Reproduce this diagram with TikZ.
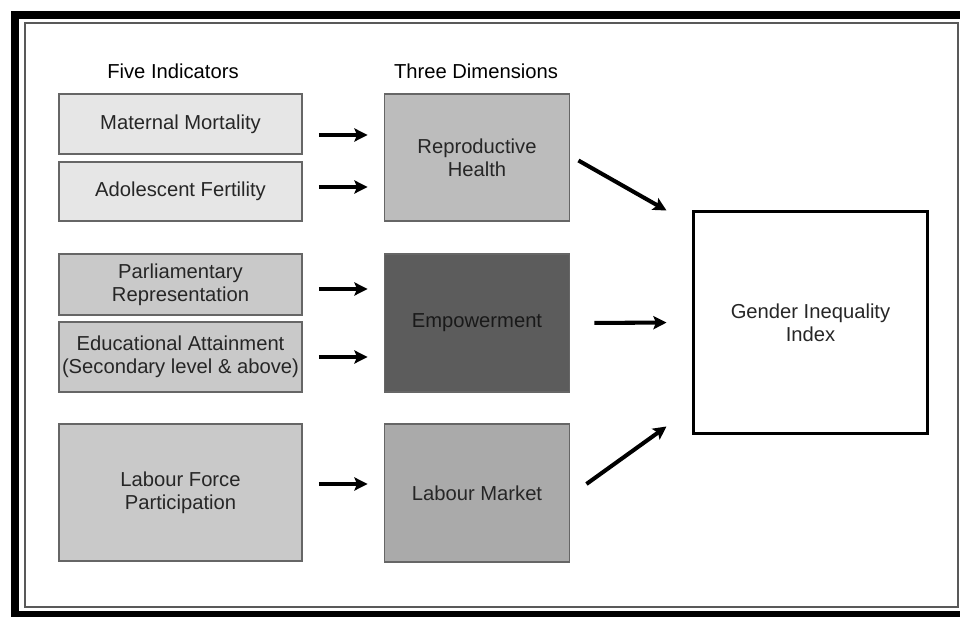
\documentclass[tikz,border=0pt]{standalone}
\usepackage{fontspec}
\setmainfont{Liberation Sans}
\usepackage{tikz}
\usetikzlibrary{arrows.meta,positioning}
\definecolor{lightbox}{HTML}{E6E6E6}
\definecolor{midbox}{HTML}{C9C9C9}
\definecolor{repbox}{HTML}{BCBCBC}
\definecolor{empbox}{HTML}{5C5C5C}
\definecolor{labbox}{HTML}{AAAAAA}
\tikzset{font=\fontsize{11.5}{13}\selectfont}
\tikzstyle{ind}=[draw=black!60,line width=1.1pt,minimum width=4.86cm,align=center,text=black!85,inner sep=1pt]
\tikzstyle{dim}=[draw=black!60,line width=1.1pt,minimum width=3.7cm,align=center,text=black!85]
\tikzstyle{gii}=[draw=black,line width=1.7pt,minimum width=4.7cm,minimum height=4.46cm,align=center,text=black!85]

\begin{document}
\begin{tikzpicture}[x=0.02cm,y=-0.02cm]
\useasboundingbox (0,0) rectangle (960,617);
% frame
\draw[line width=4.5pt] (15,15) rectangle (975,615);
\draw[black!65,line width=1.5pt] (25,23) rectangle (958,607);
% titles
\node (T) at (173,71) {Five Indicators};
\node (D) at (476,71) {Three Dimensions};
% indicators
\node[ind,fill=lightbox,minimum height=1.2cm] (M) at (180.5,124) {Maternal Mortality};
\node[ind,fill=lightbox,minimum height=1.18cm] (F) at (180.5,191.5) {Adolescent Fertility};
\node[ind,fill=midbox,minimum height=1.22cm] (P) at (180.5,284.5) {Parliamentary\\Representation};
\node[ind,fill=midbox,minimum height=1.4cm] (E) at (180.5,357) {Educational Attainment\\(Secondary level \& above)};
\node[ind,fill=midbox,minimum height=2.74cm] (L) at (180.5,492.5) {Labour Force\\Participation};
% dimensions
\node[dim,fill=repbox,minimum height=2.54cm] (R) at (477,157.5) {Reproductive\\Health};
\node[dim,fill=empbox,minimum height=2.76cm,text=black!90] (W) at (477,323) {Empowerment};
\node[dim,fill=labbox,minimum height=2.76cm] (K) at (477,493) {Labour Market};
% index
\node[gii] (G) at (810.5,322.5) {Gender Inequality\\Index};
\path[->,line width=2.3pt,>={Stealth[length=7.5pt,width=7.5pt,inset=1.5pt]},shorten <=0.32cm,shorten >=0.32cm]
(M.east|-0,135) edge (R.west|-0,135)
(F.east|-0,187) edge (R.west|-0,187)
(P.east|-0,289) edge (W.west|-0,289)
(E.east|-0,357) edge (W.west|-0,357)
(L.east|-0,484) edge (K.west|-0,484)
(W.east) edge [shorten <=0.48cm,shorten >=0.5cm] (G.west);
\path[->,line width=2.3pt,>={Stealth[length=7.5pt,width=7.5pt,inset=1.5pt]}]
([shift={(8,3)}]R.east) edge ([shift={(-25,1)}]G.north west)
([shift={(16,-9)}]K.east) edge ([shift={(-25,-9)}]G.south west);
\end{tikzpicture}
\end{document}
